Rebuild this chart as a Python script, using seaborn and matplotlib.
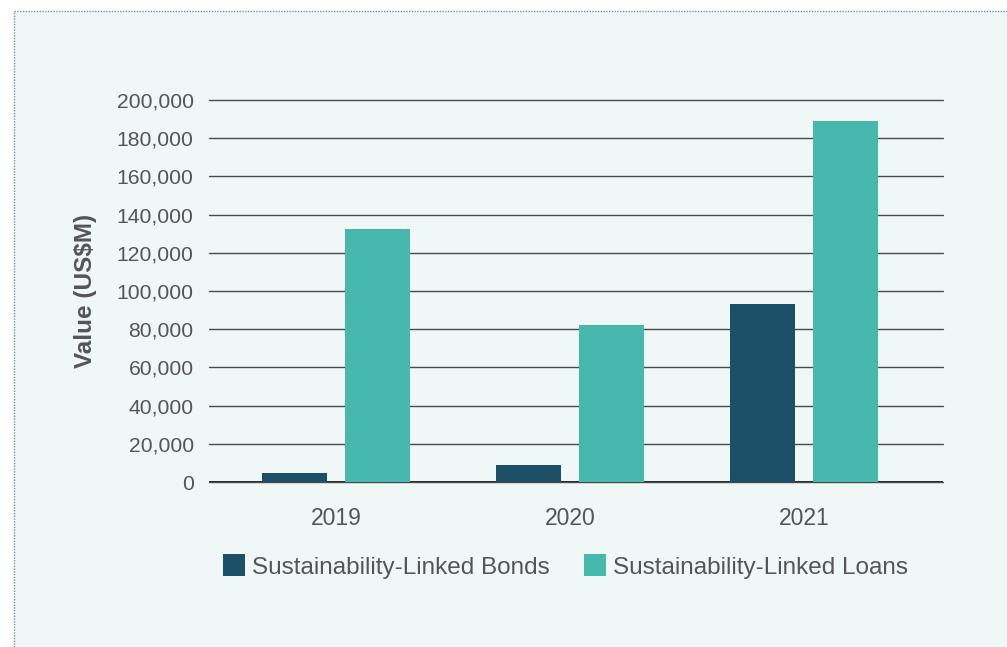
import pandas as pd
import matplotlib.pyplot as plt
import seaborn as sb
from matplotlib.patches import Rectangle

years = ['2019', '2020', '2021']
bonds = [4900, 9000, 93200]
loans = [132500, 82200, 189000]
series = ['Sustainability-Linked Bonds', 'Sustainability-Linked Loans']

frame = pd.DataFrame({
    'Year': years * 2,
    'Value': bonds + loans,
    'Type': [series[0]] * 3 + [series[1]] * 3,
})

sb.set_style('white')
plt.rcParams['font.family'] = ['Liberation Sans', 'DejaVu Sans']

fig = plt.figure(figsize=(10.07, 6.47), dpi=100)
fig.patch.set_facecolor('white')
# light panel with dotted border, running off the right and bottom edges
fig.patches.append(Rectangle((14 / 1007, -0.05), 1.0, 1 - 11 / 647 + 0.05,
                             transform=fig.transFigure, facecolor='#eff8f7',
                             edgecolor='#6e93a6', linestyle=(0, (1, 1)),
                             linewidth=1, zorder=-10))

ax = fig.add_axes([209 / 1007, 1 - 482 / 647, 734 / 1007, 382 / 647])
ax.set_facecolor('none')

sb.barplot(data=frame, x='Year', y='Value', hue='Type', order=years,
           hue_order=series, palette=['#1b5068', '#46b8ac'],
           width=0.71, gap=0.22, saturation=1, linewidth=0, ax=ax)

ax.set_xlim(-0.543, 2.594)
ax.set_ylim(0, 200000)
ax.set_yticks(range(0, 200001, 20000))
ax.set_yticklabels([f'{v:,}' for v in range(0, 200001, 20000)])
ax.yaxis.grid(True, color='#4a4a4a', linewidth=1)
for line in ax.get_ygridlines():
    line.set_clip_on(False)
ax.set_axisbelow(True)
ax.axhline(0, color='black', linewidth=1.2, zorder=0.5)
for s in ax.spines.values():
    s.set_visible(False)

ax.tick_params(axis='y', length=0, pad=11, labelsize=15.2, labelcolor='#555555')
ax.tick_params(axis='x', length=0, pad=18, labelsize=16.5, labelcolor='#555555')
ax.set_xlabel('')
ax.set_ylabel('Value (US$M)', fontsize=17.5, fontweight='bold', color='#555555',
              labelpad=14)

ax.legend(loc='upper center', bbox_to_anchor=(0.486, -0.132), ncol=2, frameon=False,
          fontsize=17.5, handlelength=0.9, handleheight=1.0, handletextpad=0.3,
          columnspacing=1.4, labelcolor='#555555')

fig.savefig('out.png', dpi=100)
